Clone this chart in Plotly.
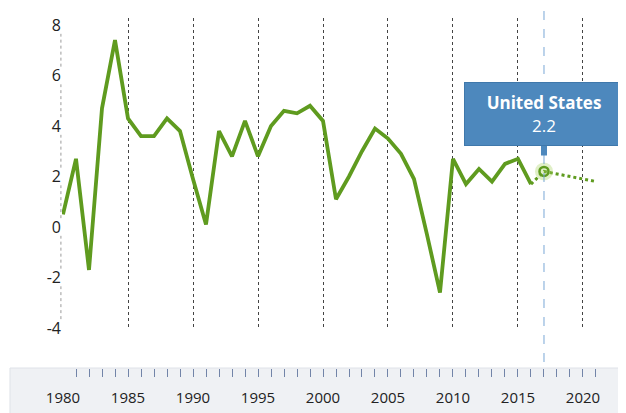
import plotly.graph_objects as go

# ---- data ----
years = list(range(1980, 2017))
gdp_growth = [0.5, 2.7, -1.7, 4.7, 7.4, 4.3, 3.6, 3.6, 4.3, 3.8,
              1.9, 0.1, 3.8, 2.8, 4.2, 2.8, 4.0, 4.6, 4.5, 4.8,
              4.2, 1.1, 2.0, 3.0, 3.9, 3.5, 2.9, 1.9, -0.3, -2.6,
              2.7, 1.7, 2.3, 1.8, 2.5, 2.7, 1.7]
proj_years = [2016, 2017, 2018, 2019, 2020, 2021]
proj_values = [1.7, 2.2, 2.1, 2.0, 1.9, 1.8]
hover_year = 2017
hover_value = 2.2
hover_label = "United States"
y_ticks = [-4, -2, 0, 2, 4, 6, 8]
grid_years = [1985, 1990, 1995, 2000, 2005, 2010, 2015, 2020]
label_years = [1980, 1985, 1990, 1995, 2000, 2005, 2010, 2015, 2020]

GREEN = "#5f9b1f"
BLUE = "#4d88bd"
FONT = "Open Sans"

fig = go.Figure()

fig.add_trace(go.Scatter(x=years, y=gdp_growth, mode="lines",
                         line=dict(color=GREEN, width=3.8),
                         hoverinfo="skip", showlegend=False))
fig.add_trace(go.Scatter(x=proj_years, y=proj_values, mode="lines",
                         line=dict(color=GREEN, width=3, dash="dot"),
                         hoverinfo="skip", showlegend=False))
fig.add_trace(go.Scatter(x=[hover_year], y=[hover_value], mode="markers",
                         marker=dict(size=18, color="rgba(165,210,95,0.35)"),
                         hoverinfo="skip", showlegend=False))
fig.add_trace(go.Scatter(x=[hover_year], y=[hover_value], mode="markers",
                         marker=dict(size=9, symbol="circle-open", color=GREEN,
                                     line=dict(width=2.5)),
                         hoverinfo="skip", showlegend=False))
# carrier for the bottom year strip axis
fig.add_trace(go.Scatter(x=years, y=[0] * len(years), xaxis="x2", yaxis="y2",
                         mode="lines", line=dict(width=0), opacity=0,
                         hoverinfo="skip", showlegend=False))

xrange = [1979.923, 2021.77]

shapes = []
# light grey strip behind the year labels
shapes.append(dict(type="rect", xref="paper", yref="paper",
                   x0=-0.0956, x1=1.0294, y0=-0.01, y1=0.1111,
                   fillcolor="#eff1f4", line=dict(color="#dfe2e8", width=1),
                   layer="below"))
# vertical blue dashed line at hovered year
shapes.append(dict(type="line", xref="x", yref="paper",
                   x0=hover_year, x1=hover_year, y0=0.1259, y1=1.02,
                   line=dict(color="#7aa7d6", width=1, dash="dash")))
# dotted y axis segments between tick labels
for a, b in zip(y_ticks[:-1], y_ticks[1:]):
    shapes.append(dict(type="line", xref="paper", yref="y",
                       x0=-0.002, x1=-0.002, y0=a + 0.35, y1=b - 0.35,
                       line=dict(color="#9a9a9a", width=1, dash="dot")))

fig.update_layout(
    width=618, height=405,
    margin=dict(l=54, r=20, t=0, b=0, autoexpand=False),
    paper_bgcolor="white", plot_bgcolor="white",
    font=dict(family=FONT, color="#222222"),
    showlegend=False,
    shapes=shapes,
    xaxis=dict(range=xrange, domain=[0, 1], tickvals=grid_years,
               showticklabels=False, ticks="", showgrid=True,
               gridcolor="#444444", gridwidth=1, griddash="dot",
               zeroline=False, showline=False, anchor="y", automargin=False),
    yaxis=dict(range=[-4.08, 8.277], domain=[0.20494, 0.97531],
               tickvals=y_ticks, ticktext=[str(v) for v in y_ticks],
               showgrid=False, zeroline=False, showline=False,
               tickfont=dict(size=16, color="#222222", family=FONT),
               ticks="", anchor="x", automargin=False),
    xaxis2=dict(range=xrange, domain=[0, 1], anchor="y2",
                tickvals=label_years, ticktext=[str(v) for v in label_years],
                ticks="inside", ticklen=8, tickcolor="#7284a8", tickwidth=1,
                minor=dict(dtick=1, tick0=1980, ticks="inside", ticklen=8,
                           tickcolor="#7284a8", tickwidth=1, showgrid=False),
                showgrid=False, zeroline=False, showline=False,
                tickfont=dict(size=15, color="#222222", family=FONT),
                ticklabelstandoff=10, automargin=False),
    yaxis2=dict(domain=[0.08889, 0.1086], range=[0, 1], visible=False,
                anchor="x2"),
    annotations=[dict(x=hover_year, y=hover_value, xref="x", yref="y",
                      text=f"<b>{hover_label}</b><br>{hover_value}",
                      showarrow=True, arrowhead=0, arrowwidth=6,
                      arrowcolor=BLUE, ax=0, ay=-57, standoff=16,
                      bgcolor=BLUE, bordercolor="#3f78ab", borderwidth=1,
                      borderpad=4, width=150, height=54,
                      font=dict(color="white", size=17, family=FONT),
                      align="center")],
)

fig.write_html("out.html")
